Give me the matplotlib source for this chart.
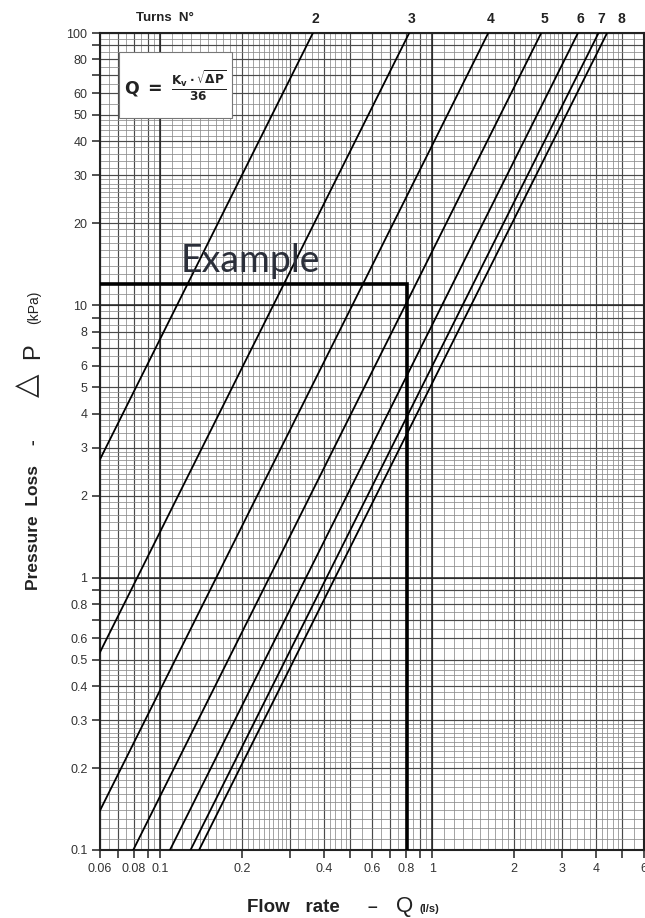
import numpy as np
import matplotlib.pyplot as plt
from matplotlib.patches import Rectangle
from matplotlib.ticker import NullFormatter

# Kv value of each turn line (Q = Kv*sqrt(dP)/36)
turns = ["2", "3", "4", "5", "6", "7", "8"]
kv = [1.31, 2.96, 5.78, 9.05, 12.35, 14.7, 15.8]

# example reading
ex_q = 0.81
ex_dp = 12.0

# axis ticks and labels
x_ticks = [0.06, 0.07, 0.08, 0.09, 0.1, 0.2, 0.3, 0.4, 0.5, 0.6, 0.7, 0.8, 0.9, 1, 2, 3, 4, 5, 6]
x_labels = ["0.06", "", "0.08", "", "0.1", "0.2", "", "0.4", "", "0.6", "", "0.8", "", "1", "2", "3", "4", "", "6"]
y_ticks = [0.1, 0.2, 0.3, 0.4, 0.5, 0.6, 0.7, 0.8, 0.9, 1, 2, 3, 4, 5, 6, 7, 8, 9, 10,
           20, 30, 40, 50, 60, 70, 80, 90, 100]
y_labels = ["0.1", "0.2", "0.3", "0.4", "0.5", "0.6", "", "0.8", "", "1", "2", "3", "4", "5", "6", "", "8", "", "10",
            "20", "30", "40", "50", "60", "", "80", "", "100"]

W, H = 645, 918
fig = plt.figure(figsize=(W / 100, H / 100), dpi=100)
ax = fig.add_axes([100 / W, 1 - 850 / H, 544 / W, 817 / H])
ax.set_xscale("log")
ax.set_yscale("log")

# log paper grid
fine = np.concatenate([np.arange(1, 3, 0.1), np.arange(3, 5, 0.2), np.arange(5, 10, 0.5)])
fine_x = [d * m for d in [0.01, 0.1, 1] for m in fine]
fine_y = [d * m for d in [0.1, 1, 10] for m in fine]
ax.set_xticks(fine_x, minor=True)
ax.set_yticks(fine_y, minor=True)
ax.xaxis.set_minor_formatter(NullFormatter())
ax.yaxis.set_minor_formatter(NullFormatter())
ax.set_xticks(x_ticks, x_labels)
ax.set_yticks(y_ticks, y_labels)
ax.set_xlim(0.06, 6)
ax.set_ylim(0.1, 100)
ax.set_axisbelow(True)
ax.grid(which="minor", color="#8a8a8a", lw=0.55)
ax.grid(which="major", color="#4a4a4a", lw=0.85)
for d in [0.1, 1]:
    ax.axvline(d, color="#222222", lw=1.1, zorder=1)
for d in [1, 10]:
    ax.axhline(d, color="#222222", lw=1.1, zorder=1)

tick_font = ["Liberation Sans Narrow", "Liberation Sans"]
ax.tick_params(which="minor", length=0)
ax.tick_params(which="major", direction="out", length=6, width=1.1, color="#222222",
               labelsize=9, labelcolor="#333333", pad=3)
for lab in ax.get_xticklabels() + ax.get_yticklabels():
    lab.set_family(tick_font)
for s in ax.spines.values():
    s.set_linewidth(1.5)
    s.set_color("#222222")

# turn lines
q = np.array([0.01, 10.0])
for t, k in zip(turns, kv):
    ax.plot(q, (36 * q / k) ** 2, color="black", lw=1.3, zorder=5)
    qtop = k * np.sqrt(100) / 36
    dx = 8 if t == "8" else 0
    ax.annotate(t, xy=(qtop, 1), xycoords=ax.get_xaxis_transform(), xytext=(dx + 2, 5),
                textcoords="offset points", ha="center", va="bottom", fontsize=10,
                fontweight="bold", family="Liberation Sans", color="#222222")
ax.text(165 / W, 1 - 18 / H, "Turns  N°", transform=fig.transFigure, ha="center", va="center",
        fontsize=9.5, fontweight="bold", family="Liberation Sans", color="#222222")

# example
ax.plot([ax.get_xlim()[0], ex_q, ex_q], [ex_dp, ex_dp, ax.get_ylim()[0]], color="black",
        lw=2.6, zorder=6, solid_joinstyle="miter")
ax.text(0.1185, 13.3, "Example", fontsize=27, family="Lato", color="#2b2f3a", ha="left",
        va="baseline", zorder=7)

# formula box
ax.add_patch(Rectangle((0.035, 0.896), 0.208, 0.081, transform=ax.transAxes, facecolor="white",
                       edgecolor="#777777", lw=0.8, zorder=3))
ax.text(0.139, 0.936, r"$\mathbf{Q\ =\ \frac{K_v\cdot\sqrt{\Delta P}}{36}}$", transform=ax.transAxes,
        ha="center", va="center", fontsize=12.5, zorder=4, color="#222222")

# axis labels
def fx(x):
    return x / W

def fy(y):
    return 1 - y / H

lab_font = "Liberation Sans"
fig.text(fx(33), fy(528), "Pressure  Loss", rotation=90, ha="center", va="center", fontsize=12.5,
         fontweight="bold", family=lab_font, color="#222222")
fig.text(fx(33), fy(442), "-", rotation=90, ha="center", va="center", fontsize=12.5,
         fontweight="bold", family=lab_font, color="#222222")
fig.text(fx(27), fy(385), "\u25b3", rotation=90, ha="center", va="center", fontsize=22,
         family="DejaVu Sans", color="#222222")
fig.text(fx(33), fy(351), "P", rotation=90, ha="center", va="center", fontsize=17,
         family=lab_font, color="#222222")
fig.text(fx(34), fy(307), "(kPa)", rotation=90, ha="center", va="center", fontsize=10,
         family=lab_font, color="#222222")

fig.text(fx(247), fy(912), "Flow   rate", ha="left", va="baseline", fontsize=13.5,
         fontweight="bold", family=lab_font, color="#222222")
fig.text(fx(372), fy(912), "\u2013", ha="center", va="baseline", fontsize=12.5,
         fontweight="bold", family=lab_font, color="#222222")
fig.text(fx(396), fy(912), "Q", ha="left", va="baseline", fontsize=16,
         family=lab_font, color="#222222")
fig.text(fx(419), fy(912), "(l/s)", ha="left", va="baseline", fontsize=8,
         fontweight="bold", family=lab_font, color="#222222")

fig.savefig("out.png", dpi=100)
